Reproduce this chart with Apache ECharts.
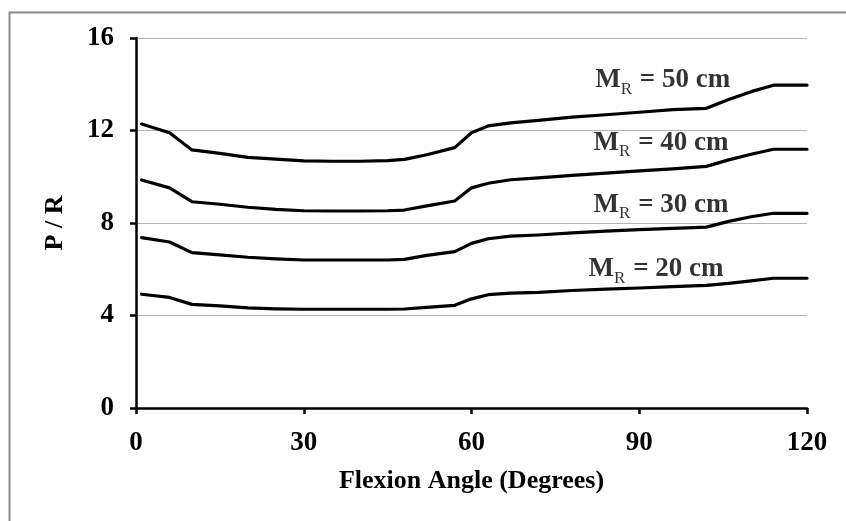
<!DOCTYPE html>
<html>
<head>
<meta charset="utf-8">
<script src="https://cdn.jsdelivr.net/npm/echarts@6/dist/echarts.min.js"></script>
<style>
html,body{margin:0;padding:0;background:#fff;}
#chart{width:846px;height:521px;}
</style>
</head>
<body>
<div id="chart"></div>
<script>
// Flexion angle (degrees)
var angles = [1, 6, 10, 15, 20, 25, 30, 35, 40, 45, 48, 52, 57, 60, 63, 67, 72, 78, 84, 90, 96, 102, 106, 110, 114, 120];
// P / R for each moment arm
var mr50 = [12.28, 11.90, 11.16, 11.01, 10.84, 10.76, 10.69, 10.67, 10.67, 10.70, 10.75, 10.95, 11.26, 11.90, 12.20, 12.33, 12.44, 12.58, 12.68, 12.79, 12.90, 12.96, 13.34, 13.68, 13.96, 13.96];
var mr40 = [9.86, 9.52, 8.92, 8.81, 8.68, 8.59, 8.53, 8.52, 8.52, 8.53, 8.56, 8.74, 8.95, 9.52, 9.72, 9.87, 9.95, 10.06, 10.16, 10.25, 10.34, 10.45, 10.73, 10.97, 11.19, 11.19];
var mr30 = [7.37, 7.18, 6.72, 6.62, 6.52, 6.45, 6.40, 6.40, 6.40, 6.40, 6.43, 6.60, 6.76, 7.12, 7.32, 7.43, 7.48, 7.57, 7.65, 7.71, 7.77, 7.82, 8.07, 8.27, 8.42, 8.42];
var mr20 = [4.92, 4.78, 4.48, 4.42, 4.33, 4.29, 4.27, 4.27, 4.27, 4.27, 4.28, 4.35, 4.44, 4.72, 4.90, 4.97, 5.00, 5.08, 5.14, 5.19, 5.25, 5.30, 5.39, 5.50, 5.61, 5.61];
var seriesNames = ['50 cm', '40 cm', '30 cm', '20 cm'];
// Curve label anchors (data coordinates)
var labelX = [94.2, 93.9, 93.9, 93.0];
var labelY = [14.18, 11.46, 8.79, 5.99];
var labelText = ['50 cm', '40 cm', '30 cm', '20 cm'];
// Axis settings
var xMin = 0, xMax = 120, xStep = 30;
var yMin = 0, yMax = 16, yStep = 4;

var FONT = 'Liberation Serif';
var allValues = [mr50, mr40, mr30, mr20];

function pairs(vals) {
  return angles.map(function (a, i) { return [a, vals[i]]; });
}

var series = allValues.map(function (vals, k) {
  return {
    name: seriesNames[k],
    type: 'line',
    data: pairs(vals),
    symbol: 'none',
    smooth: false,
    lineStyle: { color: '#000', width: 3.2, join: 'round', cap: 'round' },
    z: 3
  };
});

series.push({
  name: 'labels',
  type: 'scatter',
  symbolSize: 0,
  silent: true,
  data: labelX.map(function (x, i) { return [x, labelY[i], labelText[i]]; }),
  label: {
    show: true,
    position: 'inside',
    formatter: function (p) { return '{m|M}{r|R}{t| = ' + p.data[2] + '}'; },
    rich: {
      m: { fontFamily: FONT, fontWeight: 'bold', fontSize: 27, color: '#000', lineHeight: 30 },
      r: { fontFamily: FONT, fontWeight: 'normal', fontSize: 17, color: '#000', lineHeight: 17, padding: [18, 1, 0, 0] },
      t: { fontFamily: FONT, fontWeight: 'bold', fontSize: 27, color: '#000', lineHeight: 30 }
    }
  },
  z: 4
});

var chart = echarts.init(document.getElementById('chart'));
chart.setOption({
  animation: false,
  backgroundColor: '#fff',
  grid: { left: 136, right: 39, top: 38, bottom: 113, containLabel: false },
  xAxis: {
    type: 'value',
    min: xMin, max: xMax, interval: xStep,
    name: 'Flexion Angle (Degrees)',
    nameLocation: 'middle',
    nameGap: 60,
    nameTextStyle: { fontFamily: FONT, fontWeight: 'bold', fontSize: 26, color: '#000' },
    axisLine: { show: true, onZero: false, lineStyle: { color: '#000', width: 2.5 } },
    axisTick: { show: true, inside: false, length: 6, lineStyle: { color: '#000', width: 2.5 } },
    axisLabel: { fontFamily: FONT, fontWeight: 'bold', fontSize: 27, color: '#000', margin: 22 },
    splitLine: { show: false }
  },
  yAxis: {
    type: 'value',
    min: yMin, max: yMax, interval: yStep,
    name: 'P / R',
    nameLocation: 'middle',
    nameGap: 68,
    nameTextStyle: { fontFamily: FONT, fontWeight: 'bold', fontSize: 26, color: '#000' },
    axisLine: { show: true, onZero: false, lineStyle: { color: '#000', width: 2.5 } },
    axisTick: { show: true, inside: false, length: 6, lineStyle: { color: '#000', width: 2.5 } },
    axisLabel: { fontFamily: FONT, fontWeight: 'bold', fontSize: 27, color: '#000', margin: 22 },
    splitLine: { show: true, lineStyle: { color: '#b3b3b3', width: 1.2 } }
  },
  graphic: [{
    type: 'rect',
    left: 7, top: 10,
    shape: { width: 900, height: 600 },
    style: { fill: 'none', stroke: '#8c8c8c', lineWidth: 2 },
    silent: true,
    z: -1
  }],
  series: series
});
</script>
</body>
</html>
